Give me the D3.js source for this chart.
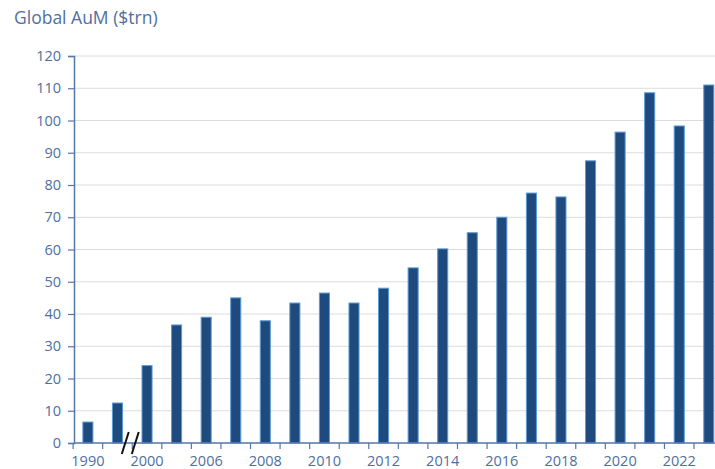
<!DOCTYPE html>
<html>
<head>
<meta charset="utf-8">
<script src="https://cdn.jsdelivr.net/npm/d3@7"></script>
<style>
  html, body { margin: 0; padding: 0; background: #fff; }
  svg { display: block; font-family: "Open Sans", "Noto Sans", sans-serif; }
</style>
</head>
<body>
<svg id="chart" width="715" height="469"></svg>
<script>
// 데이터 — 그림에서 읽은 값
const years  = ['1990', '1995', '2000', '2005', '2006', '2007', '2008', '2009', '2010', '2011', '2012',
                '2013', '2014', '2015', '2016', '2017', '2018', '2019', '2020', '2021', '2022', '2023'];
const aum    = [6.5, 12.4, 24, 36.6, 39, 45, 37.9, 43.4, 46.5, 43.4, 48,
                54.3, 60.2, 65.2, 70, 77.5, 76.3, 87.5, 96.4, 108.6, 98.3, 111];
const xLabels = ['1990', '', '2000', '', '2006', '', '2008', '', '2010', '', '2012',
                 '', '2014', '', '2016', '', '2018', '', '2020', '', '2022', ''];
const yTicks = [0, 10, 20, 30, 40, 50, 60, 70, 80, 90, 100, 110, 120];

const W = 715, H = 469;
const M = { top: 56, bottom: 26, left: 74 };
const TEXT = '#4f6f9e';
const AXIS = '#5577a8';

const svg = d3.select('#chart');

// ── 스케일 ──────────────────────────────────────────────────────────
// 첫 막대 중심 ≈88, 마지막 ≈709 (오른쪽 끝은 그림 밖까지)
const x = d3.scaleBand()
  .domain(years)
  .range([M.left, 722.7])
  .paddingInner(0.66)
  .paddingOuter(0.3);

const y = d3.scaleLinear()
  .domain([0, 120])
  .range([H - M.bottom, M.top]);

// ── 격자 ────────────────────────────────────────────────────────────
svg.append('g')
  .selectAll('line')
  .data(yTicks.filter(d => d > 0))
  .join('line')
  .attr('x1', M.left).attr('x2', W)
  .attr('y1', d => y(d)).attr('y2', d => y(d))
  .attr('stroke', '#dcdcdc')
  .attr('stroke-width', 1);

// ── 막대 ────────────────────────────────────────────────────────────
svg.append('g')
  .selectAll('rect')
  .data(years)
  .join('rect')
  .attr('x', d => x(d))
  .attr('y', (d, i) => y(aum[i]))
  .attr('width', x.bandwidth())
  .attr('height', (d, i) => y(0) - y(aum[i]))
  .attr('fill', '#1f4a7e')
  .attr('stroke', '#5a9ad6')
  .attr('stroke-width', 1);

// ── Y축 ─────────────────────────────────────────────────────────────
const yAxis = svg.append('g')
  .attr('transform', `translate(${M.left},0)`)
  .call(d3.axisLeft(y).tickValues(yTicks).tickSize(6).tickPadding(7));
yAxis.select('.domain').attr('stroke', AXIS).attr('stroke-width', 1.5);
yAxis.selectAll('.tick line').attr('stroke', AXIS).attr('stroke-width', 1.2);
yAxis.selectAll('.tick text')
  .attr('fill', TEXT)
  .attr('font-size', 14.5)
  .attr('font-family', '"Open Sans", sans-serif');

// ── X축 (눈금은 구간 경계에) ─────────────────────────────────────────
const step = x.step();
const x0 = x(years[0]) + x.bandwidth() / 2 - step / 2;
const gx = svg.append('g').attr('transform', `translate(0,${y(0)})`);
gx.append('line')
  .attr('x1', M.left).attr('x2', W)
  .attr('stroke', AXIS).attr('stroke-width', 1.5);
gx.selectAll('line.tk')
  .data(d3.range(years.length + 1))
  .join('line')
  .attr('class', 'tk')
  .attr('x1', i => x0 + i * step).attr('x2', i => x0 + i * step)
  .attr('y1', 0).attr('y2', 6)
  .attr('stroke', AXIS).attr('stroke-width', 1.2);
gx.selectAll('text')
  .data(years)
  .join('text')
  .attr('x', d => x(d) + x.bandwidth() / 2)
  .attr('y', 23)
  .attr('text-anchor', 'middle')
  .attr('fill', TEXT)
  .attr('font-size', 14.5)
  .text((d, i) => xLabels[i]);

// 축 생략 표시 //
const bx = (x(years[1]) + x(years[2]) + x.bandwidth()) / 2 - 2;
[-5, 5].forEach(dx => {
  svg.append('line')
    .attr('x1', bx + dx + 3.5).attr('y1', y(0) - 11)
    .attr('x2', bx + dx - 3.5).attr('y2', y(0) + 11)
    .attr('stroke', '#111').attr('stroke-width', 2);
});

// ── 제목 ────────────────────────────────────────────────────────────
svg.append('text')
  .attr('x', 14).attr('y', 24)
  .attr('fill', TEXT)
  .attr('font-size', 17.5)
  .text('Global AuM ($trn)');
</script>
</body>
</html>
